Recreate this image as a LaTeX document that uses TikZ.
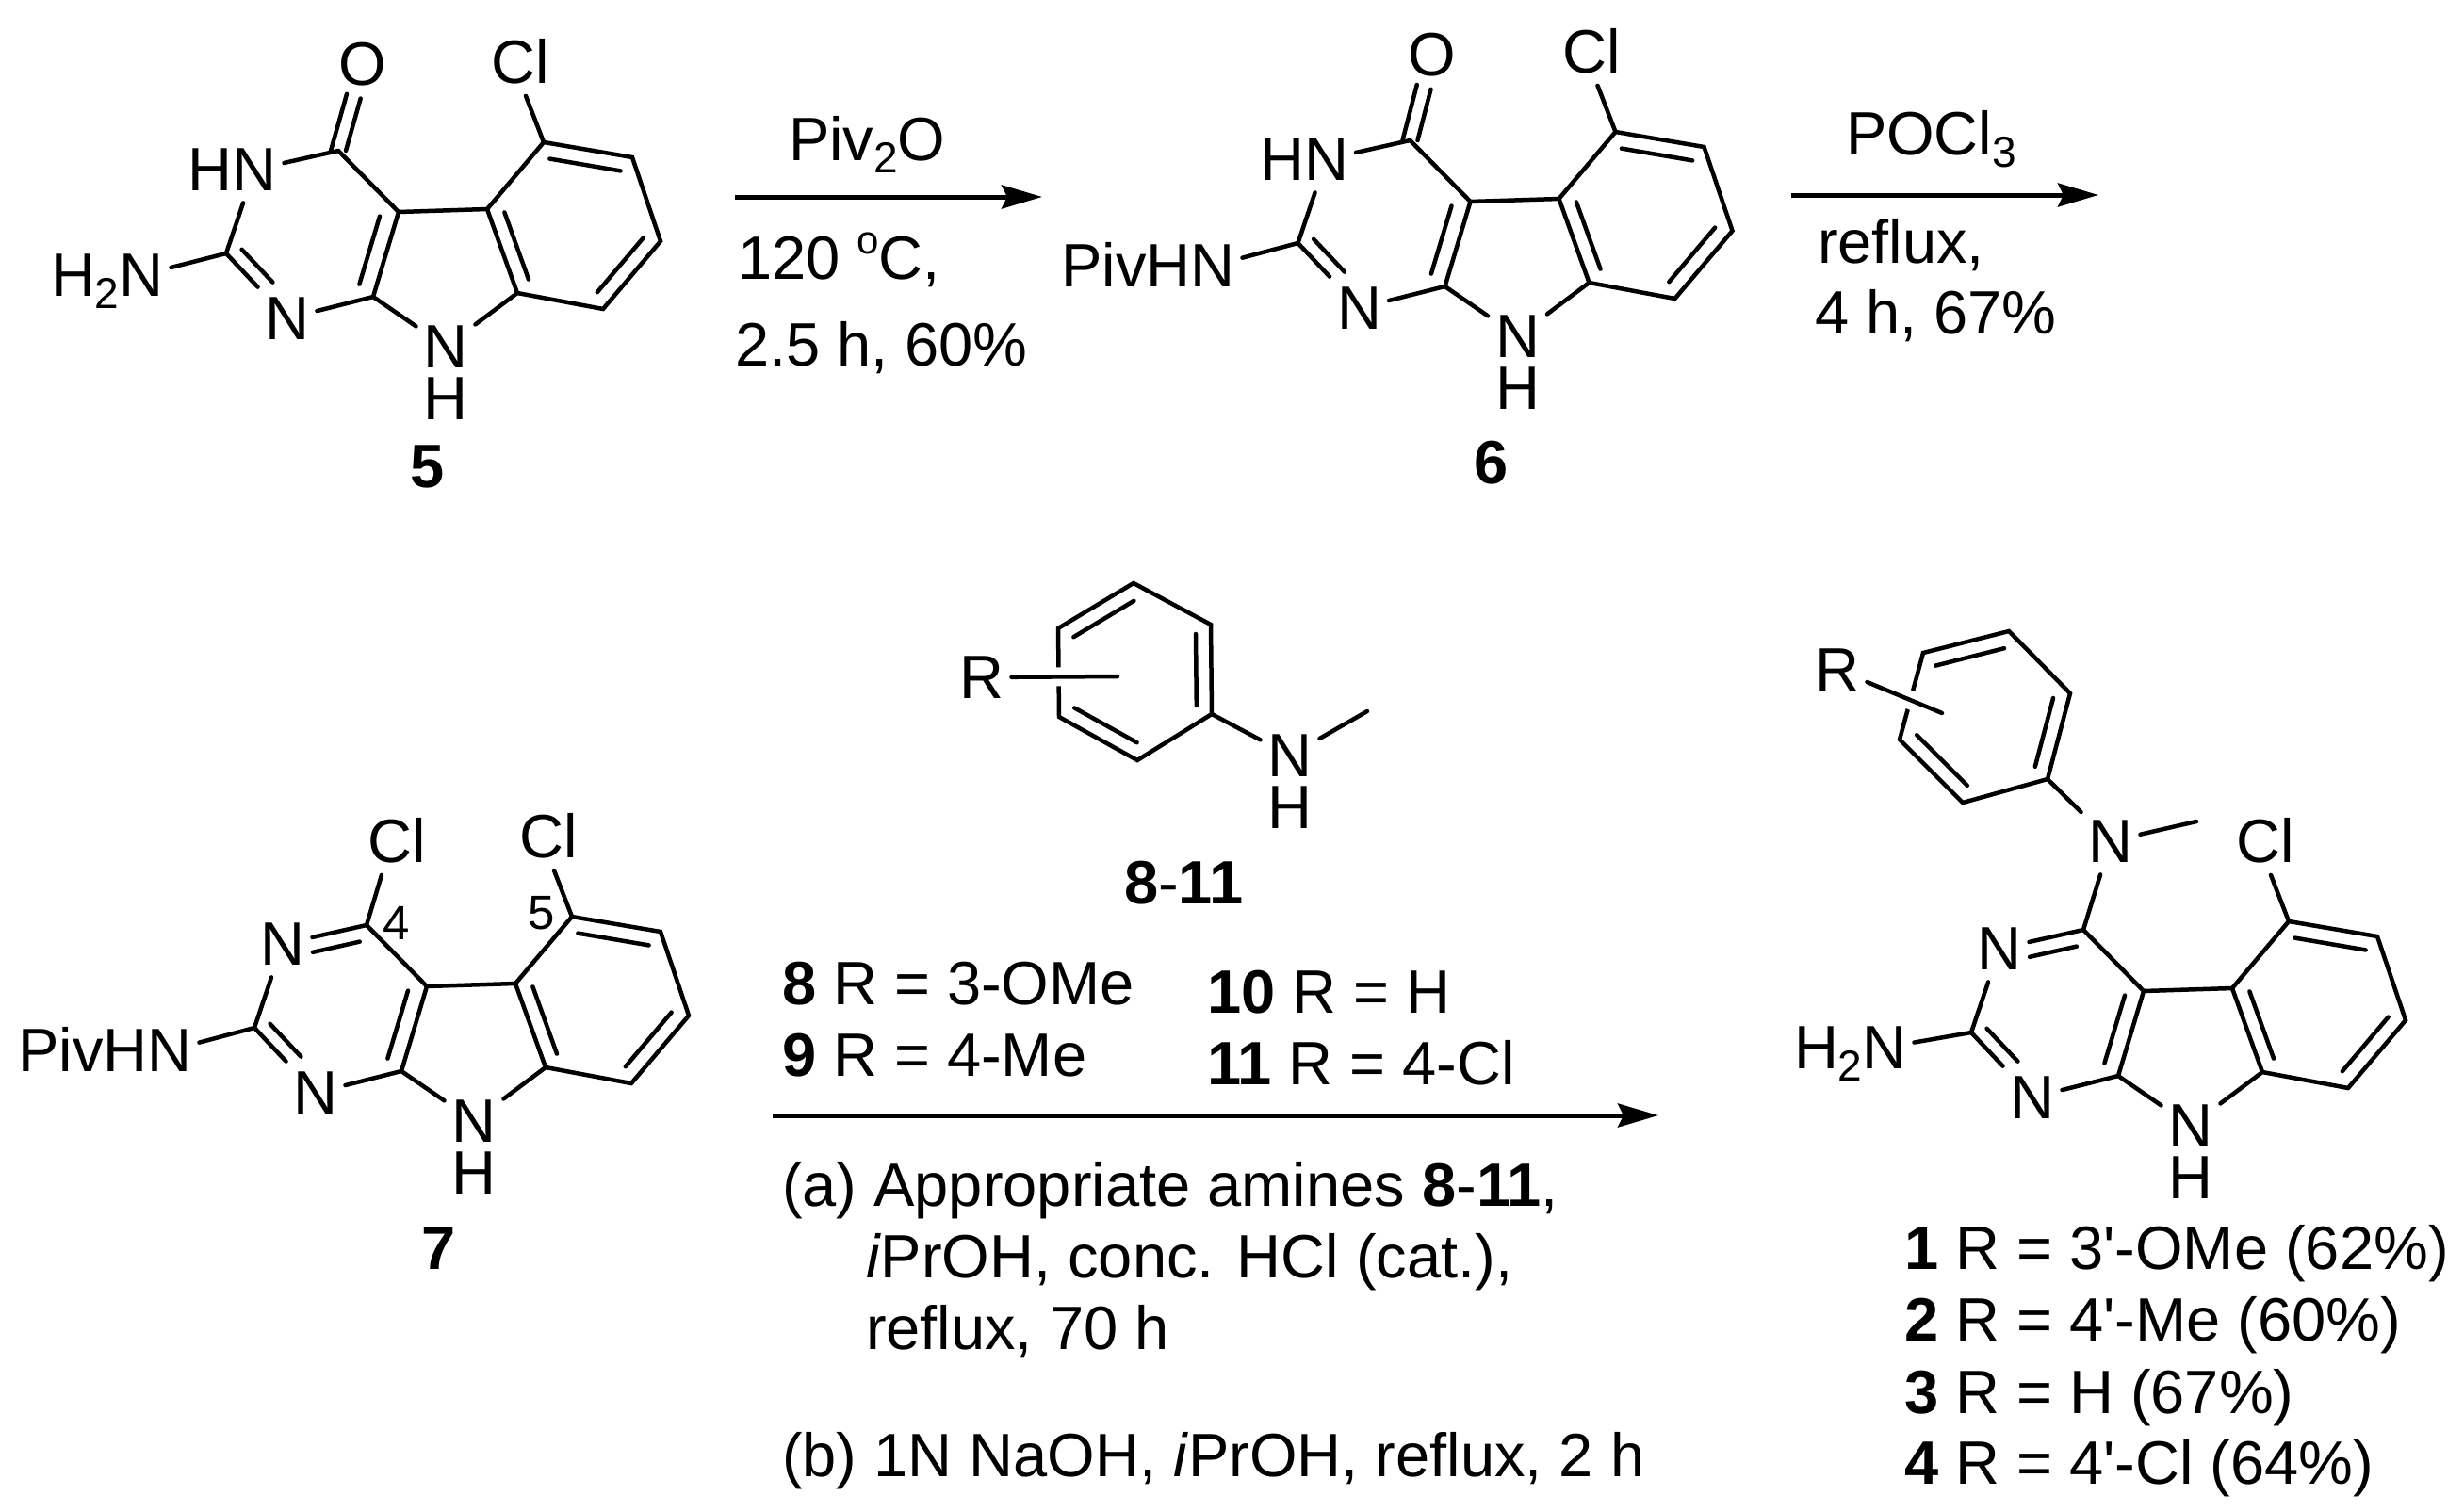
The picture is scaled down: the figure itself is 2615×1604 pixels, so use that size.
\documentclass[tikz,border=0pt]{standalone}
\usepackage{fontspec}
\usetikzlibrary{arrows.meta,calc}
\newfontfamily\schemefont{Liberation Sans}
\tikzset{
  chemtxt/.style={font=\schemefont\fontsize{65}{75}\selectfont, inner sep=0pt, outer sep=0pt},
  atom/.style={chemtxt, inner xsep=8pt, inner ysep=13pt},
  lbl/.style={chemtxt, anchor=base west},
  smallnum/.style={font=\schemefont\fontsize{51}{60}\selectfont, inner sep=0pt},
  halo/.style={draw=white, line width=20pt, line cap=butt}
}
\newcommand{\lowtxt}[1]{\raisebox{-13pt}{\fontsize{46}{50}\selectfont #1}}
\newcommand{\hightxt}[1]{\raisebox{27pt}{\fontsize{42}{50}\selectfont #1}}
\newcommand{\inbond}[3]{\draw ($(#1)!.2!(#3)$) -- ($(#2)!.2!(#3)$);}
\newcommand{\tricore}[2]{%
\begin{scope}[shift={#2}]
\coordinate (#1c2) at (240,269);
\coordinate (#1c4) at (359,160);
\coordinate (#1c4a) at (423,225);
\coordinate (#1c4b) at (517,222);
\coordinate (#1c5) at (577,151);
\coordinate (#1c6) at (671,167);
\coordinate (#1c7) at (701,256);
\coordinate (#1c8) at (640,328);
\coordinate (#1c8a) at (549,311);
\coordinate (#1c9a) at (396,315);
\coordinate (#1py) at (323,248);
\coordinate (#1bz) at (609,239);
\node[atom] (#1n1) at (305,338){N};
\node[atom] (#1n3) at (270,180){N};
\node[atom] (#1n9) at (473,368){N};
\node[chemtxt] (#1h9) at (473,423){H};
\node[atom] (#1cl) at (552,65){Cl};
\end{scope}
\draw (#1c5)--(#1c6)--(#1c7)--(#1c8)--(#1c8a)--(#1c4b)--cycle;
\draw (#1c4b)--(#1c4a)--(#1c9a);
\draw (#1c4a)--(#1c4);
\draw (#1c9a)--(#1n1)--(#1c2)--(#1n3)--(#1c4);
\draw (#1c9a)--(#1n9)--(#1c8a);
\draw (#1c5)--([xshift=6pt]#1cl.south);
\inbond{#1c5}{#1c6}{#1bz}
\inbond{#1c7}{#1c8}{#1bz}
\inbond{#1c8a}{#1c4b}{#1bz}
\inbond{#1c4a}{#1c9a}{#1py}
\draw[shorten >=28pt] ($(#1c2)!.2!(#1py)$) -- ($(#1n1)!.2!(#1py)$);
}
\begin{document}
\begin{tikzpicture}[x=1pt, y=-1pt, line width=4.5pt, line cap=round, >={Stealth[length=43pt,width=25pt,inset=6pt]}]
\useasboundingbox (0,0) rectangle (2615,1604);

\tricore{a}{(0,0)}
\node[chemtxt,anchor=base east] (ah3) at ([xshift=8pt]an3.base west){H};
\node[chemtxt] (ao) at (385,68){O};
\draw[shorten >=33pt] ([xshift=-8pt]ac4)--([xshift=-8pt]ao.center);
\draw[shorten >=38pt] ([xshift=8pt]ac4)--([xshift=8pt]ao.center);
\node[atom] (anh) at (150,292){N};
\node[chemtxt,anchor=base east] (ah2) at ([xshift=8pt]anh.base west){H\lowtxt{2}};
\draw (ac2)--(anh);
\node[lbl,anchor=base] (cmpa) at (454,517){\textbf{5}};

\tricore{b}{(1137.5,-11)}
\node[chemtxt,anchor=base east] (bh3) at ([xshift=8pt]bn3.base west){H};
\node[chemtxt] (bo) at (1520,58){O};
\draw[shorten >=33pt] ([xshift=-8pt]bc4)--([xshift=-8pt]bo.center);
\draw[shorten >=38pt] ([xshift=8pt]bc4)--([xshift=8pt]bo.center);
\node[atom] (bnh) at (1287,282){N};
\node[chemtxt,anchor=base east] (bpiv) at ([xshift=8pt]bnh.base west){PivH};
\draw (bc2)--(bnh);
\node[lbl,anchor=base] (cmpb) at (1583,513){\textbf{6}};

\tricore{c}{(30,822)}
\node[atom] (ccl) at (421,892){Cl};
\draw (cc4)--([xshift=-16pt]ccl.south);
\draw[shorten >=22pt] ($(cc4)!.2!(cpy)$) -- ($(cn3)!.2!(cpy)$);
\node[atom] (cnh) at (180,1115){N};
\node[chemtxt,anchor=base east] (cpiv) at ([xshift=8pt]cnh.base west){PivH};
\draw (cc2)--(cnh);
\node[smallnum] (cfour) at (421,980){4};
\node[smallnum] (cfive) at (575,969){5};
\node[lbl,anchor=base] (cmpc) at (466,1347){\textbf{7}};

\tricore{d}{(1852,827)}
\draw[shorten >=22pt] ($(dc4)!.2!(dpy)$) -- ($(dn3)!.2!(dpy)$);
\node[atom] (dnh) at (2000,1112){N};
\node[chemtxt,anchor=base east] (dh2) at ([xshift=8pt]dnh.base west){H\lowtxt{2}};
\draw (dc2)--(dnh);
\node[atom] (dn4) at (2240,893){N};
\coordinate (dme) at (2331,872);
\draw (dc4)--(dn4)--(dme);
\coordinate (dr1) at (2173,827);
\coordinate (dr2) at (2197,736);
\coordinate (dr3) at (2132,670);
\coordinate (dr4) at (2041,693);
\coordinate (dr5) at (2016,785);
\coordinate (dr6) at (2083,852);
\coordinate (drc) at (2107,761);
\draw (dr1)--(dr2)--(dr3)--(dr4)--(dr5)--(dr6)--cycle;
\draw (dr1)--(dn4);
\inbond{dr1}{dr2}{drc}
\inbond{dr3}{dr4}{drc}
\inbond{dr5}{dr6}{drc}
\node[atom] (dr) at (1950,711){R};
\coordinate (drend) at (2061,757);
\draw[halo] ($(dr)!.5!(drend)$)--(drend);
\draw (dr)--(drend);

\coordinate (er1) at (1286,758);
\coordinate (er2) at (1285,663);
\coordinate (er3) at (1203,619);
\coordinate (er4) at (1123,667);
\coordinate (er5) at (1124,761);
\coordinate (er6) at (1207,807);
\coordinate (erc) at (1205,713);
\draw (er1)--(er2)--(er3)--(er4)--(er5)--(er6)--cycle;
\inbond{er1}{er2}{erc}
\inbond{er3}{er4}{erc}
\inbond{er5}{er6}{erc}
\node[atom] (er) at (1042,719){R};
\coordinate (erend) at (1186,718);
\draw[halo] ($(er)!.5!(erend)$)--(erend);
\draw (er)--(erend);
\node[atom] (en) at (1369,802){N};
\node[chemtxt] (eh) at (1369,857){H};
\coordinate (eme) at (1451,755);
\draw (er1)--(en)--(eme);
\node[lbl] (cmpe) at (1193,959){\textbf{8}-\textbf{11}};

\coordinate (ar1s) at (780,209);
\coordinate (ar1e) at (1106,209);
\coordinate (ar2s) at (1901,207);
\coordinate (ar2e) at (2227,207);
\coordinate (ar3s) at (820,1184);
\coordinate (ar3e) at (1760,1184);
\draw[->, line width=5pt, line cap=butt] (ar1s)--(ar1e);
\draw[->, line width=5pt, line cap=butt] (ar2s)--(ar2e);
\draw[->, line width=5pt, line cap=butt] (ar3s)--(ar3e);

\node[lbl] (piv) at (837,170){Piv\lowtxt{2}O};
\node[lbl] (temp) at (783,296){120 \hightxt{o}C,};
\node[lbl] (time) at (780,388){2.5 h, 60\%};
\node[lbl] (pocl) at (1959,164){POCl\lowtxt{3}};
\node[lbl] (refl) at (1929,279){reflux,};
\node[lbl] (yld) at (1926,354){4 h, 67\%};

\node[lbl] (reight) at (830,1066){\textbf{8} R = 3-OMe};
\node[lbl] (rnine) at (830,1142){\textbf{9} R = 4-Me};
\node[lbl] (rten) at (1281,1075){\textbf{10} R = H};
\node[lbl] (releven) at (1281,1151){\textbf{11} R = 4-Cl};
\node[lbl] (stepa) at (830,1280){(a) Appropriate amines \textbf{8}-\textbf{11},};
\node[lbl] (stepab) at (919,1356){\textit{i}PrOH, conc. HCl (cat.),};
\node[lbl] (stepac) at (919,1432){reflux, 70 h};
\node[lbl] (stepb) at (830,1567){(b) 1N NaOH, \textit{i}PrOH, reflux, 2 h};

\node[lbl] (prodone) at (2021,1347){\textbf{1} R = 3'-OMe (62\%)};
\node[lbl] (prodtwo) at (2021,1423){\textbf{2} R = 4'-Me (60\%)};
\node[lbl] (prodthree) at (2021,1500){\textbf{3} R = H (67\%)};
\node[lbl] (prodfour) at (2021,1575){\textbf{4} R = 4'-Cl (64\%)};

\end{tikzpicture}
\end{document}
